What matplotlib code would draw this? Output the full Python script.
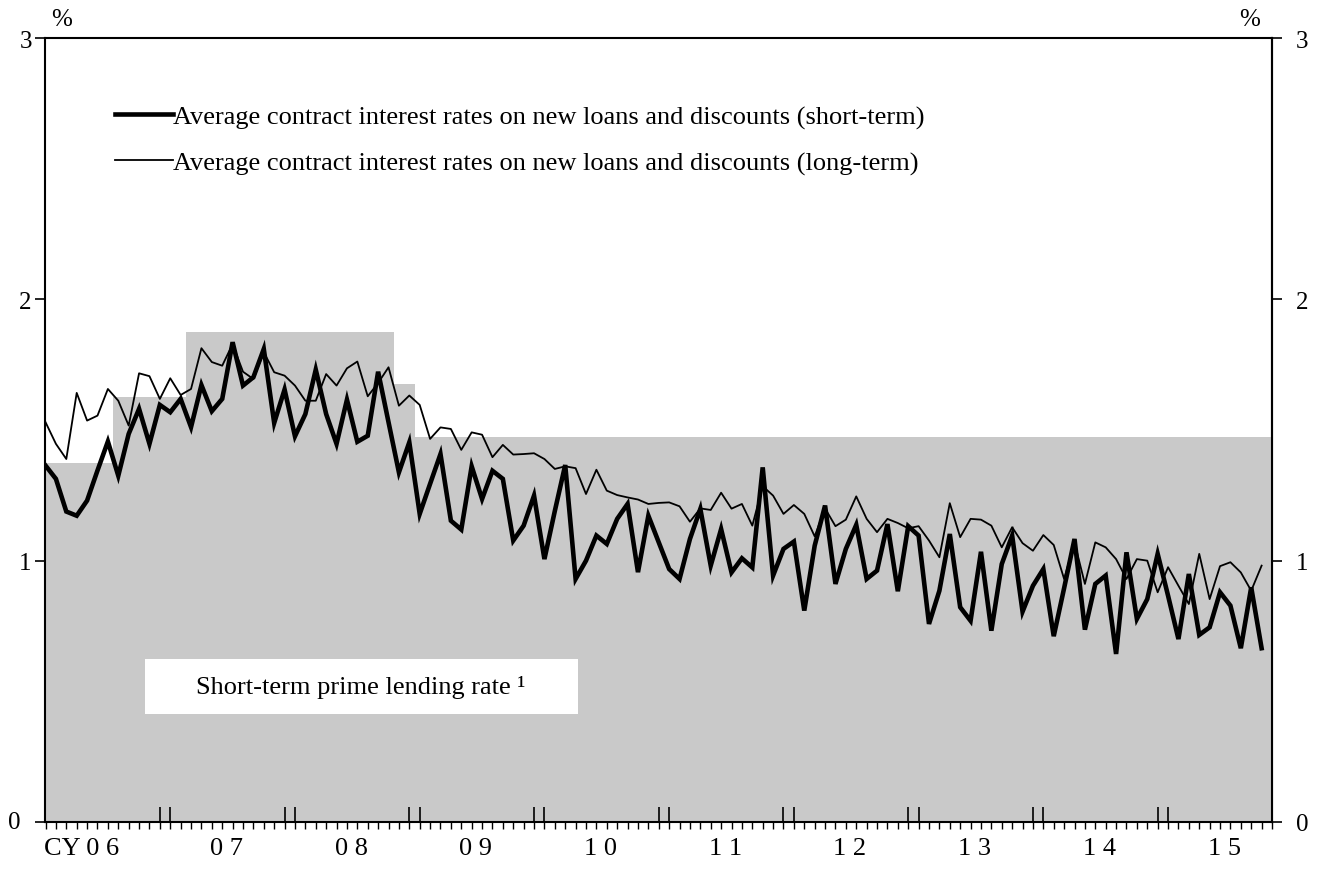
import numpy as np
import pandas as pd
import matplotlib
matplotlib.use('Agg')
import matplotlib.pyplot as plt
from matplotlib.patches import Rectangle
from matplotlib.ticker import FixedLocator

plt.rcParams['font.family'] = 'Liberation Serif'

# monthly data, Jan 2006 - Oct 2015 (%)
short_term = [
    1.364, 1.313, 1.188, 1.172, 1.230, 1.345, 1.456, 1.325, 1.485, 1.581,
    1.447, 1.596, 1.568, 1.619, 1.511, 1.672, 1.572, 1.619, 1.836, 1.670,
    1.702, 1.810, 1.527, 1.655, 1.476, 1.561, 1.731, 1.561, 1.447, 1.616,
    1.455, 1.478, 1.723, 1.530, 1.338, 1.453, 1.179, 1.294, 1.408, 1.153,
    1.119, 1.361, 1.236, 1.344, 1.313, 1.077, 1.134, 1.249, 1.006, 1.190,
    1.366, 0.930, 1.000, 1.096, 1.064, 1.160, 1.217, 0.956, 1.172, 1.070,
    0.968, 0.930, 1.083, 1.198, 0.981, 1.121, 0.955, 1.009, 0.974, 1.357,
    0.943, 1.045, 1.073, 0.809, 1.057, 1.211, 0.911, 1.045, 1.137, 0.930,
    0.962, 1.140, 0.883, 1.132, 1.096, 0.758, 0.885, 1.102, 0.822, 0.770,
    1.034, 0.732, 0.987, 1.096, 0.805, 0.904, 0.968, 0.711, 0.895, 1.083,
    0.736, 0.911, 0.943, 0.643, 1.032, 0.777, 0.853, 1.026, 0.866, 0.700,
    0.949, 0.716, 0.745, 0.879, 0.828, 0.665, 0.898, 0.665]
long_term = [
    1.530, 1.447, 1.389, 1.642, 1.536, 1.555, 1.657, 1.612, 1.517, 1.717,
    1.706, 1.619, 1.698, 1.634, 1.657, 1.813, 1.760, 1.746, 1.829, 1.723,
    1.695, 1.798, 1.721, 1.708, 1.670, 1.612, 1.612, 1.714, 1.670, 1.736,
    1.762, 1.629, 1.680, 1.740, 1.593, 1.632, 1.596, 1.466, 1.510, 1.504,
    1.424, 1.491, 1.482, 1.396, 1.443, 1.406, 1.408, 1.411, 1.389, 1.351,
    1.361, 1.354, 1.255, 1.348, 1.268, 1.251, 1.242, 1.234, 1.217, 1.221,
    1.223, 1.208, 1.149, 1.200, 1.194, 1.260, 1.199, 1.217, 1.134, 1.285,
    1.249, 1.179, 1.213, 1.179, 1.093, 1.200, 1.132, 1.157, 1.246, 1.160,
    1.109, 1.160, 1.144, 1.124, 1.132, 1.077, 1.013, 1.220, 1.090, 1.160,
    1.157, 1.134, 1.051, 1.128, 1.067, 1.038, 1.098, 1.060, 0.930, 1.070,
    0.911, 1.070, 1.051, 1.006, 0.930, 1.006, 1.000, 0.879, 0.975, 0.904,
    0.834, 1.026, 0.853, 0.979, 0.994, 0.955, 0.885, 0.981]

# short-term prime lending rate: month of change and new level
prime_from = ['2006-01', '2006-08', '2007-03', '2008-11', '2009-01']
prime_rate = [1.375, 1.625, 1.875, 1.675, 1.475]

year_labels = ['CY 0 6', '0 7', '0 8', '0 9', '1 0', '1 1', '1 2', '1 3', '1 4', '1 5']

months = pd.period_range('2006-01', '2015-10', freq='M')
prime_months = pd.period_range('2006-01', '2015-11', freq='M')
prime = pd.Series(np.nan, index=prime_months)
for m, r in zip(prime_from, prime_rate):
    prime[pd.Period(m, 'M')] = r
prime = prime.ffill().values

x = np.arange(len(months))
gray = '#c9c9c9'
fs = 19

fig = plt.figure(figsize=(13.23, 8.70), dpi=100)
ax = fig.add_axes([45 / 1323, 1 - 823 / 870, 1227 / 1323, 784 / 870])

edges = np.arange(len(prime) + 1) - 0.5
ax.fill_between(edges, np.append(prime, prime[-1]), step='post', color=gray, lw=0)

ax.plot(x, short_term, color='black', lw=3.3, solid_joinstyle='miter',
        label='Average contract interest rates on new loans and discounts (short-term)')
ax.plot(x, long_term, color='black', lw=1.3,
        label='Average contract interest rates on new loans and discounts (long-term)')

ax.set_xlim(-0.05, 118)
ax.set_ylim(0, 3)
ax.set_yticks([0, 1, 2, 3])
ax.tick_params(axis='y', direction='out', length=7, width=1.2, labelsize=18, pad=2.5)
ax.yaxis.get_major_ticks()[0].label1.set_visible(False)
ax.annotate('0', xy=(0, 0), xycoords='axes fraction', xytext=(-22, 0),
            textcoords='offset points', ha='center', va='center', fontsize=18)

# right-hand scale
sec = ax.secondary_yaxis('right')
sec.set_yticks([0, 1, 2, 3])
sec.tick_params(direction='out', length=7, width=1.2, labelsize=18, pad=10)
sec.spines['right'].set_linewidth(1.5)

# month ticks below, double ticks at year boundaries
ax.xaxis.remove_overlapping_locs = False
ax.xaxis.set_minor_locator(FixedLocator(np.arange(0, 119)))
bounds = [p for k in range(1, 10) for p in (12 * k - 1, 12 * k)]
ax.xaxis.set_major_locator(FixedLocator(bounds))
ax.tick_params(axis='x', which='minor', direction='out', length=5, width=1)
ax.tick_params(axis='x', which='major', direction='in', length=11, width=1.2,
               labelbottom=False)
for i, lab in enumerate(year_labels):
    pos = 12 * i + 5.4 if i > 0 else 3.5
    ax.annotate(lab, xy=(pos, 0), xycoords=('data', 'axes fraction'),
                xytext=(0, -19), textcoords='offset points',
                ha='center', va='center', fontsize=fs)

for s in ax.spines.values():
    s.set_linewidth(1.5)

fig.text(62 / 1323, 1 - 20 / 870, '%', fontsize=18, ha='center', va='center')
fig.text(1250 / 1323, 1 - 20 / 870, '%', fontsize=18, ha='center', va='center')

ax.legend(loc='upper left', bbox_to_anchor=(0.057, 0.915), frameon=False,
          fontsize=fs, handlelength=2.2, handletextpad=0.0, labelspacing=0.85,
          borderpad=0, borderaxespad=0)

ax.add_patch(Rectangle((100 / 1227, 108 / 784), 433 / 1227, 55 / 784,
                       transform=ax.transAxes, facecolor='white', edgecolor='none'))
ax.text((361 - 45) / 1227, (823 - 688) / 784, 'Short-term prime lending rate ¹',
        transform=ax.transAxes, ha='center', va='center', fontsize=fs)

fig.savefig('out.png', dpi=100)
